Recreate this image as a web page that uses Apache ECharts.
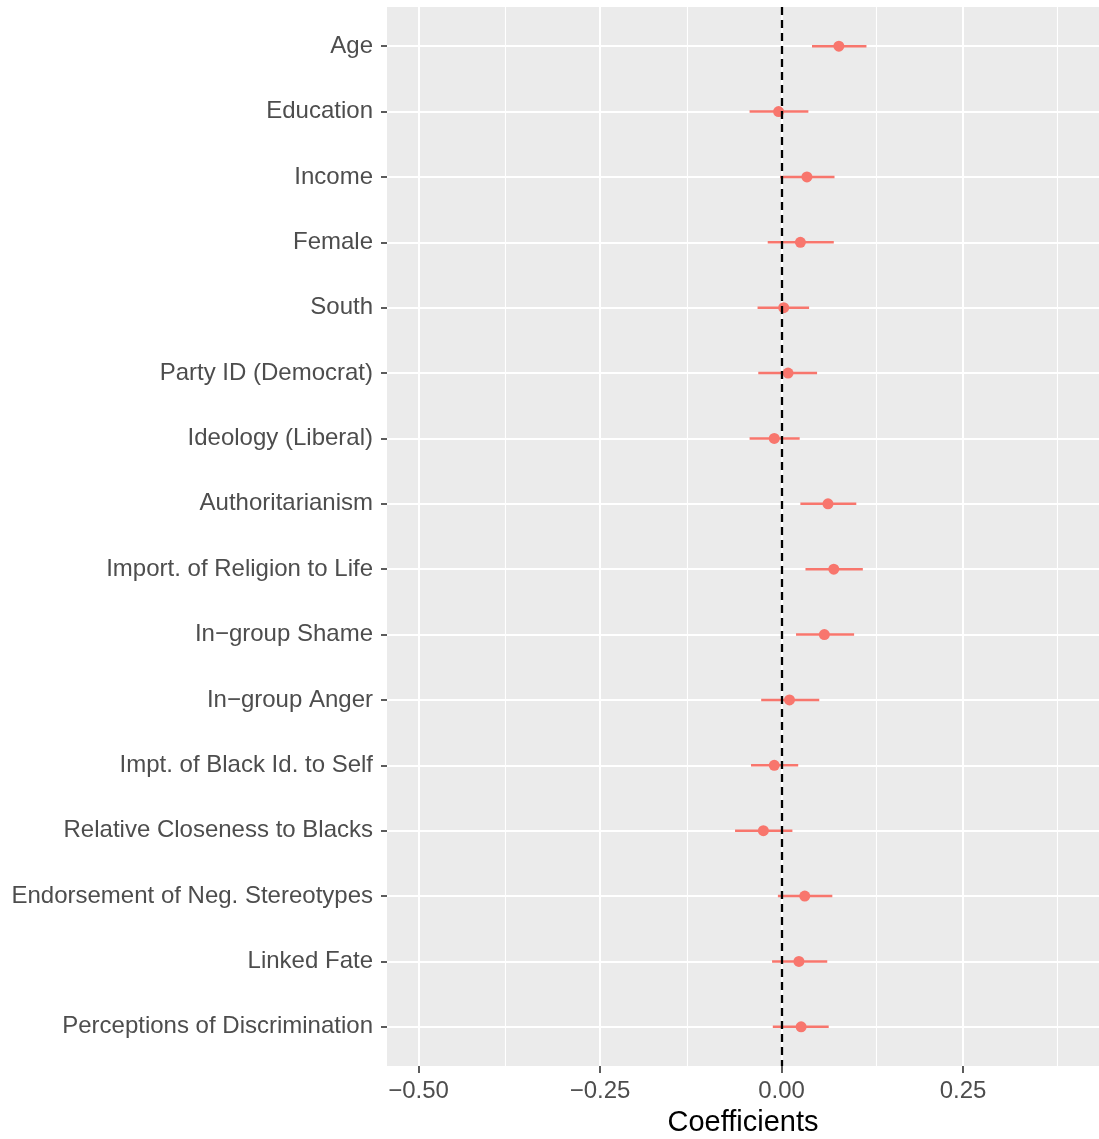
<!DOCTYPE html>
<html>
<head>
<meta charset="utf-8">
<script src="https://cdn.jsdelivr.net/npm/echarts@6/dist/echarts.min.js"></script>
<style>
html,body{margin:0;padding:0;background:#fff;}
#chart{width:1099px;height:1139px;}
</style>
</head>
<body>
<div id="chart"></div>
<script>
var categories = ["Age","Education","Income","Female","South","Party ID (Democrat)","Ideology (Liberal)","Authoritarianism","Import. of Religion to Life","In\u2212group Shame","In\u2212group Anger","Impt. of Black Id. to Self","Relative Closeness to Blacks","Endorsement of Neg. Stereotypes","Linked Fate","Perceptions of Discrimination"];
var estimates = [0.079,-0.004,0.035,0.026,0.003,0.009,-0.010,0.064,0.072,0.059,0.011,-0.010,-0.025,0.032,0.024,0.027];
var lower = [0.042,-0.044,-0.002,-0.019,-0.033,-0.032,-0.044,0.026,0.033,0.020,-0.028,-0.042,-0.064,-0.005,-0.013,-0.012];
var upper = [0.117,0.037,0.073,0.072,0.038,0.049,0.025,0.103,0.112,0.100,0.052,0.023,0.015,0.070,0.063,0.065];
var xTicks = [-0.5,-0.25,0,0.25];
var xMinorLines = [-0.375,-0.125,0.125,0.375];
var refLine = 0;

var idx = categories.map(function(_, i){ return i; });
var pointData = estimates.map(function(v, i){ return [v, i]; });
var barData = estimates.map(function(v, i){ return [lower[i], upper[i], i]; });

function fmtTick(v){
  var s = Math.abs(v).toFixed(2);
  return (v < 0 ? '\u2212' : '') + s;
}

var FONT = 'Liberation Sans, Arial, sans-serif';
var chart = echarts.init(document.getElementById('chart'), null, {renderer:'canvas'});
chart.setOption({
  animation: false,
  backgroundColor: '#ffffff',
  grid: {left: 387, top: 7, right: 0, bottom: 73, backgroundColor: '#EBEBEB', show: true, borderWidth: 0,
         containLabel: false, outerBoundsMode: 'none'},
  xAxis: {
    type: 'value', min: -0.5434, max: 0.4373,
    name: 'Coefficients', nameLocation: 'middle', nameGap: 42,
    nameTextStyle: {color: '#000', fontSize: 29, fontFamily: FONT},
    axisLine: {show: false, onZero: false},
    axisTick: {show: true, length: 7, customValues: xTicks, lineStyle: {color: '#333333', width: 1.6}},
    axisLabel: {customValues: xTicks, formatter: fmtTick, color: '#4D4D4D', fontSize: 24, margin: 13, fontFamily: FONT},
    splitLine: {show: true, lineStyle: {color: '#ffffff', width: 2}}
  },
  yAxis: {
    type: 'value', inverse: true, min: -0.6, max: 15.6,
    axisLine: {show: false, onZero: false},
    axisTick: {show: true, length: 6, customValues: idx, lineStyle: {color: '#333333', width: 1.6}},
    axisLabel: {customValues: idx, formatter: function(v){ return categories[Math.round(v)]; }, color: '#4D4D4D', fontSize: 24, margin: 14, fontFamily: FONT},
    splitLine: {show: true, lineStyle: {color: '#ffffff', width: 2}}
  },
  series: [
    {
      type: 'line', data: [], z: 1, silent: true,
      markLine: {silent: true, symbol: 'none', animation: false, label: {show: false},
        lineStyle: {color: '#ffffff', width: 1.1, type: 'solid'},
        data: xMinorLines.map(function(v){ return {xAxis: v}; })}
    },
    {
      type: 'custom', z: 3, data: barData,
      renderItem: function(params, api){
        var p1 = api.coord([api.value(0), api.value(2)]);
        var p2 = api.coord([api.value(1), api.value(2)]);
        return {type: 'line', shape: {x1: p1[0], y1: p1[1], x2: p2[0], y2: p2[1]},
          style: {stroke: '#F8766D', lineWidth: 2.5}};
      },
      encode: {x: [0, 1], y: 2}
    },
    {
      type: 'scatter', z: 4, data: pointData, symbol: 'circle', symbolSize: 11,
      itemStyle: {color: '#F8766D', opacity: 1}
    },
    {
      type: 'line', data: [], z: 5, silent: true,
      markLine: {silent: true, symbol: 'none', animation: false, label: {show: false},
        lineStyle: {color: '#000000', width: 2.3, type: [8, 5]},
        data: [{xAxis: refLine}]}
    }
  ]
});
</script>
</body>
</html>
